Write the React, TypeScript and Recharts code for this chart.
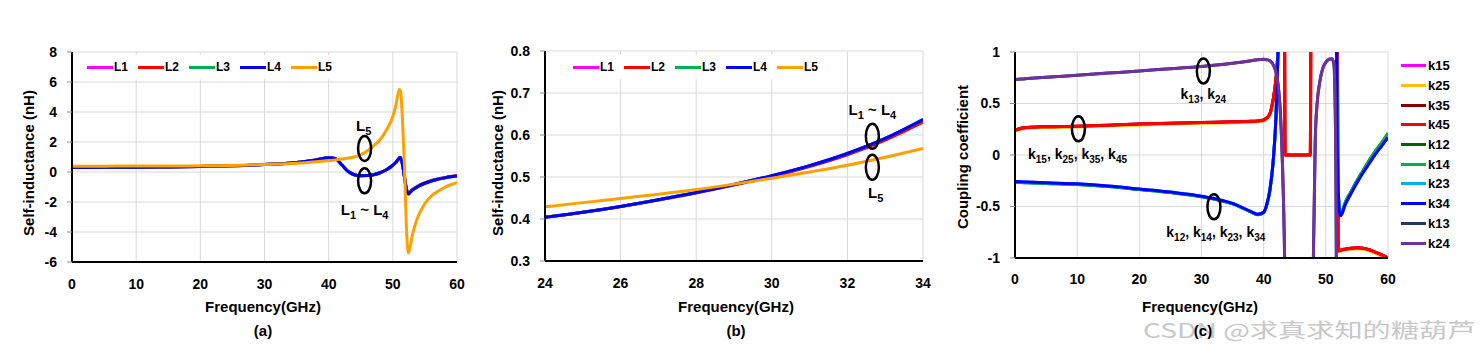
import React from 'react';
import { LineChart, Line, XAxis, YAxis, CartesianGrid, ReferenceDot } from 'recharts';

const FONT = '"Liberation Sans", Arial, Helvetica, sans-serif';

// (a) self-inductance over 0-60 GHz
const freqA = [0, 5, 10, 15, 20, 25, 30, 35, 38, 40, 41, 42, 43, 44, 45, 46, 47, 48, 49, 50, 50.5, 51, 51.2, 51.5, 51.8, 52.1, 52.4, 52.7, 53, 53.5, 54, 55, 56, 57, 58, 59, 60];
const L4a = [0.3, 0.31, 0.32, 0.34, 0.37, 0.42, 0.5, 0.64, 0.8, 0.95, 0.91, 0.5, 0.05, -0.18, -0.25, -0.24, -0.18, -0.05, 0.15, 0.45, 0.65, 0.92, 0.97, 0.5, -0.3, -1.1, -1.47, -1.35, -1.22, -1.08, -0.95, -0.75, -0.6, -0.48, -0.4, -0.32, -0.26];
const L2a = [0.3, 0.31, 0.32, 0.34, 0.37, 0.42, 0.5, 0.64, 0.8, 0.95, 0.91, 0.5, 0.05, -0.18, -0.25, -0.24, -0.18, -0.05, 0.15, 0.45, 0.65, 0.92, 0.97, 0.5, -0.3, -1.1, -1.42, -1.31, -1.18, -1.04, -0.91, -0.72, -0.57, -0.46, -0.38, -0.3, -0.24];
// L1 and L3 sit exactly under L4
const L1a = L4a;
const L3a = L4a;
const L5a = [0.39, 0.39, 0.4, 0.4, 0.41, 0.44, 0.5, 0.58, 0.68, 0.76, 0.8, 0.86, 0.93, 1.0, 1.15, 1.4, 1.75, 2.15, 2.8, 3.7, 4.5, 5.5, 5.4, 3.5, 0.5, -3.5, -5.4, -5.0, -4.3, -3.5, -2.9, -2.1, -1.6, -1.3, -1.05, -0.85, -0.71];

// (b) zoom 24-34 GHz
const freqB = [24, 25, 26, 27, 28, 29, 30, 31, 32, 33, 34];
const L4b = [0.404, 0.416, 0.43, 0.446, 0.463, 0.482, 0.503, 0.527, 0.556, 0.592, 0.637];
const L2b = [0.404, 0.416, 0.43, 0.445, 0.462, 0.481, 0.501, 0.525, 0.553, 0.588, 0.631];
const L1b = L4b;
const L3b = L4b;
const L5b = [0.429, 0.439, 0.449, 0.459, 0.47, 0.483, 0.497, 0.512, 0.528, 0.547, 0.568];

// (c) coupling coefficients, values outside [-1, 1] run off the plot
const freqC = [0, 1, 2, 5, 10, 15, 20, 25, 30, 35, 38, 39, 40, 40.5, 41, 41.5, 42, 42.3, 42.6, 43, 43.3, 43.45, 43.6, 45, 47.5, 47.65, 47.8, 48, 48.3, 48.6, 49, 49.5, 50, 50.5, 51, 51.3, 51.6, 51.8, 52, 52.3, 52.6, 53, 54, 55, 56, 57, 58, 59, 60];
const k45 = [0.24, 0.26, 0.268, 0.275, 0.28, 0.29, 0.3, 0.308, 0.316, 0.322, 0.327, 0.33, 0.34, 0.36, 0.4, 0.53, 0.75, 1.0, 1.5, 2, 2, 0, 0, 0, 0, 2, 2, 2, 2, 2, 2, 2, 2, 2, 2, 2, 2, 2, -0.93, -0.925, -0.92, -0.915, -0.905, -0.9, -0.905, -0.92, -0.945, -0.97, -1.0];
const k25 = [0.232, 0.252, 0.26, 0.267, 0.272, 0.282, 0.292, 0.3, 0.308, 0.314, 0.319, 0.322, 0.332, 0.352, 0.392, 0.52, 0.74, 1.0, 1.5, 2, 2, 0, 0, 0, 0, 2, 2, 2, 2, 2, 2, 2, 2, 2, 2, 2, 2, 2, -0.94, -0.935, -0.93, -0.925, -0.915, -0.91, -0.915, -0.93, -0.955, -0.985, -1.02];
const k15 = k45;
const k35 = k45;
const k34 = [-0.258, -0.26, -0.263, -0.27, -0.28, -0.3, -0.33, -0.36, -0.4, -0.47, -0.55, -0.575, -0.555, -0.48, -0.34, -0.08, 0.4, 1.0, 2, 2, 2, 2, 2, 2, 2, 2, 2, 2, 2, 2, 2, 2, 2, 2, 2, 2, 2, 0.3, -0.35, -0.59, -0.57, -0.5, -0.38, -0.27, -0.17, -0.08, 0.01, 0.09, 0.17];
const k14 = [-0.265, -0.267, -0.27, -0.276, -0.286, -0.305, -0.335, -0.365, -0.405, -0.475, -0.555, -0.58, -0.56, -0.485, -0.345, -0.085, 0.4, 1.0, 2, 2, 2, 2, 2, 2, 2, 2, 2, 2, 2, 2, 2, 2, 2, 2, 2, 2, 2, 0.3, -0.34, -0.58, -0.56, -0.48, -0.36, -0.25, -0.15, -0.05, 0.04, 0.12, 0.21];
const k12 = k14;
const k23 = k34;
const k24 = [0.732, 0.737, 0.742, 0.755, 0.774, 0.795, 0.816, 0.838, 0.86, 0.89, 0.915, 0.925, 0.93, 0.925, 0.915, 0.88, 0.8, 0.69, 0.5, -0.05, -0.75, -1.3, -2, -2, -2, -2, -2, -1.0, 0.15, 0.5, 0.7, 0.84, 0.9, 0.93, 0.935, 0.88, 0.0, -2, -2, -2, -2, -2, -2, -2, -2, -2, -2, -2, -2];
const k13 = k24;

const seriesL = [
  { key: 'L1', color: '#FF00FF' },
  { key: 'L2', color: '#FF0000' },
  { key: 'L3', color: '#00B050' },
  { key: 'L4', color: '#0000FF' },
  { key: 'L5', color: '#FFA000' },
];
const seriesK = [
  { key: 'k15', color: '#FF00FF' },
  { key: 'k25', color: '#FFC000' },
  { key: 'k35', color: '#8B0000' },
  { key: 'k45', color: '#FF0000' },
  { key: 'k12', color: '#006400' },
  { key: 'k14', color: '#00B050' },
  { key: 'k23', color: '#00B0F0' },
  { key: 'k34', color: '#0000FF' },
  { key: 'k13', color: '#1F3864' },
  { key: 'k24', color: '#7030A0' },
];

const rowsA = freqA.map((f, i) => ({ f, L1: L1a[i], L2: L2a[i], L3: L3a[i], L4: L4a[i], L5: L5a[i] }));
const rowsB = freqB.map((f, i) => ({ f, L1: L1b[i], L2: L2b[i], L3: L3b[i], L4: L4b[i], L5: L5b[i] }));
const rowsC = freqC.map((f, i) => ({
  f, k15: k15[i], k25: k25[i], k35: k35[i], k45: k45[i], k12: k12[i],
  k14: k14[i], k23: k23[i], k34: k34[i], k13: k13[i], k24: k24[i],
}));

type Note = { x: number; y: number; ring?: boolean; parts?: [string, string][]; size?: number; sub?: number };

const notesA: Note[] = [
  { x: 45.6, y: 1.57, ring: true },
  { x: 45.6, y: -0.59, ring: true },
  { x: 45.45, y: 3.07, parts: [['L', '5']] },
  { x: 45.6, y: -2.53, parts: [['L', '1'], [' ~ L', '4']] },
];
const notesB: Note[] = [
  { x: 32.66, y: 0.597, ring: true },
  { x: 32.66, y: 0.523, ring: true },
  { x: 32.66, y: 0.66, parts: [['L', '1'], [' ~ L', '4']] },
  { x: 32.75, y: 0.464, parts: [['L', '5']] },
];
const notesC: Note[] = [
  { x: 30.3, y: 0.815, ring: true },
  { x: 30.3, y: 0.59, parts: [['k', '13'], [', k', '24']], size: 14, sub: 10 },
  { x: 10.2, y: 0.254, ring: true },
  { x: 10.06, y: 0.01, parts: [['k', '15'], [', k', '25'], [', k', '35'], [', k', '45']], size: 14, sub: 10 },
  { x: 32.0, y: -0.503, ring: true },
  { x: 32.3, y: -0.75, parts: [['k', '12'], [', k', '14'], [', k', '23'], [', k', '34']], size: 14, sub: 10 },
];

const tickStyle = { fill: '#000', fontSize: 14, fontWeight: 'bold', fontFamily: FONT };
const frame = { stroke: '#000', strokeWidth: 2 };

function Ring(props: any) {
  return <ellipse cx={props.cx} cy={props.cy} rx={6.5} ry={12.5} fill="none" stroke="#000" strokeWidth={2.5} />;
}

function SubLabel({ cx, cy, note }: { cx: number; cy: number; note: Note }) {
  const size = note.size ?? 15;
  const sub = note.sub ?? 11;
  return (
    <text x={cx} y={cy + size * 0.36} textAnchor="middle" fontFamily={FONT} fontWeight="bold" fontSize={size} fill="#000">
      {(note.parts || []).map(([m, s], i) => [
        <tspan key={'m' + i} dy={i === 0 ? 0 : -4}>{m}</tspan>,
        <tspan key={'s' + i} fontSize={sub} dy={4}>{s}</tspan>,
      ])}
    </text>
  );
}

type PanelProps = {
  left: number; width: number; top: number; right: number; bottom: number; yWidth: number;
  data: any[]; xDomain: [number, number]; xTicks: number[]; yDomain: [number, number]; yTicks: number[];
  series: { key: string; color: string }[]; notes: Note[]; xGap: number; yFmt?: (v: number) => string;
};

function Panel(p: PanelProps) {
  return (
    <div style={{ position: 'absolute', left: p.left, top: 0 }}>
      <LineChart width={p.width} height={358} data={p.data} margin={{ top: p.top, right: p.right, bottom: p.bottom, left: 0 }}>
        <CartesianGrid stroke="#d9d9d9" strokeWidth={1} />
        <XAxis type="number" dataKey="f" domain={p.xDomain} ticks={p.xTicks} interval={0} allowDataOverflow height={30}
          tickLine={false} tickSize={5} tickMargin={p.xGap} axisLine={frame} tick={tickStyle} />
        <XAxis xAxisId="top" orientation="top" type="number" dataKey="f" domain={p.xDomain} allowDataOverflow height={0}
          tick={false} tickLine={false} axisLine={frame} />
        <YAxis type="number" domain={p.yDomain} ticks={p.yTicks} interval={0} allowDataOverflow width={p.yWidth}
          tickSize={5} tickMargin={10} tickLine={{ stroke: '#8c8c8c' }} axisLine={frame} tick={tickStyle} tickFormatter={p.yFmt} />
        <YAxis yAxisId="right" orientation="right" type="number" domain={p.yDomain} allowDataOverflow width={0}
          tick={false} tickLine={false} axisLine={frame} />
        {p.series.map((s) => (
          <Line key={s.key} type="monotone" dataKey={s.key} stroke={s.color} strokeWidth={3} dot={false} isAnimationActive={false} />
        ))}
        {p.notes.map((n, i) => (
          <ReferenceDot key={i} x={n.x} y={n.y} r={1} ifOverflow="visible"
            shape={(sp: any) => (n.ring ? <Ring cx={sp.cx} cy={sp.cy} /> : <SubLabel cx={sp.cx} cy={sp.cy} note={n} />)} />
        ))}
      </LineChart>
    </div>
  );
}

function RowLegend({ left, top, items }: { left: number; top: number; items: { key: string; color: string }[] }) {
  return (
    <div style={{ position: 'absolute', left, top, height: 24, display: 'flex', alignItems: 'center', background: '#fff', padding: '0 4px' }}>
      {items.map((s) => (
        <div key={s.key} style={{ display: 'flex', alignItems: 'center', width: 51 }}>
          <span style={{ display: 'inline-block', width: 26, height: 3, background: s.color }} />
          <span style={{ fontFamily: FONT, fontWeight: 'bold', fontSize: 12, marginLeft: 1 }}>{s.key}</span>
        </div>
      ))}
    </div>
  );
}

function ColLegend({ left, top, items }: { left: number; top: number; items: { key: string; color: string }[] }) {
  return (
    <div style={{ position: 'absolute', left, top }}>
      {items.map((s) => (
        <div key={s.key} style={{ display: 'flex', alignItems: 'center', height: 19.7 }}>
          <span style={{ display: 'inline-block', width: 25, height: 3, background: s.color }} />
          <span style={{ fontFamily: FONT, fontWeight: 'bold', fontSize: 13, marginLeft: 2 }}>{s.key}</span>
        </div>
      ))}
    </div>
  );
}

function Caption({ x, y, text, rotate }: { x: number; y: number; text: string; rotate?: boolean }) {
  return (
    <div style={{
      position: 'absolute', left: x, top: y, transform: `translate(-50%, -50%)${rotate ? ' rotate(-90deg)' : ''}`,
      fontFamily: FONT, fontWeight: 'bold', fontSize: 15, whiteSpace: 'nowrap', lineHeight: 1, color: '#000',
    }}>{text}</div>
  );
}

export default function App() {
  return (
    <div style={{ position: 'absolute', left: 0, top: 0, width: 1484, height: 358, background: '#fff', overflow: 'hidden' }}>
      <Panel left={0} width={480} top={52} right={23} bottom={66} yWidth={72} data={rowsA}
        xDomain={[0, 60]} xTicks={[0, 10, 20, 30, 40, 50, 60]} yDomain={[-6, 8]} yTicks={[-6, -4, -2, 0, 2, 4, 6, 8]}
        series={seriesL} notes={notesA} xGap={12} />
      <Panel left={480} width={470} top={51} right={27} bottom={67} yWidth={65} data={rowsB}
        xDomain={[24, 34]} xTicks={[24, 26, 28, 30, 32, 34]} yDomain={[0.3, 0.8]} yTicks={[0.3, 0.4, 0.5, 0.6, 0.7, 0.8]}
        series={seriesL} notes={notesB} xGap={12} yFmt={(v) => v.toFixed(1)} />
      <Panel left={940} width={460} top={52} right={12} bottom={70} yWidth={75} data={rowsC}
        xDomain={[0, 60]} xTicks={[0, 10, 20, 30, 40, 50, 60]} yDomain={[-1, 1]} yTicks={[-1, -0.5, 0, 0.5, 1]}
        series={seriesK} notes={notesC} xGap={11} />

      <RowLegend left={83} top={55} items={seriesL} />
      <RowLegend left={569} top={55} items={seriesL} />
      <ColLegend left={1401} top={56} items={seriesK} />

      <Caption x={28} y={163} text="Self-inductance (nH)" rotate />
      <Caption x={497} y={163} text="Self-inductance (nH)" rotate />
      <Caption x={962} y={157} text="Coupling coefficient" rotate />
      <Caption x={263} y={306} text="Frequency(GHz)" />
      <Caption x={736} y={306} text="Frequency(GHz)" />
      <Caption x={1200} y={306} text="Frequency(GHz)" />

      <div style={{
        position: 'absolute', left: 1143, top: 320, fontFamily: '"Noto Sans CJK SC", "Noto Sans", sans-serif', fontSize: 20,
        lineHeight: 1, color: '#c8c8c8', whiteSpace: 'nowrap', transform: 'scaleX(1.41)', transformOrigin: 'left center',
      }}>CSDN @求真求知的糖葫芦</div>

      <Caption x={263} y={330} text="(a)" />
      <Caption x={736} y={330} text="(b)" />
      <Caption x={1203} y={330} text="(c)" />
    </div>
  );
}
